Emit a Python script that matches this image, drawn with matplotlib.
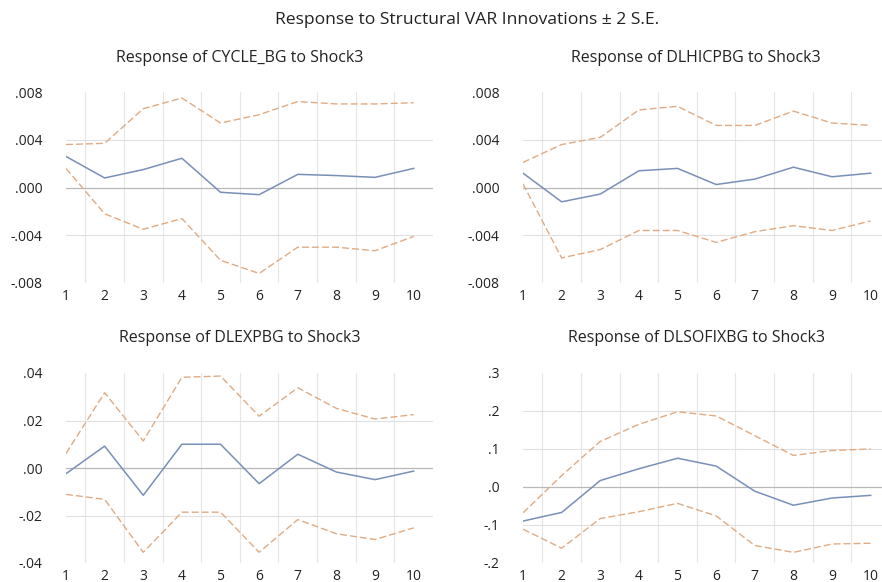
import matplotlib
matplotlib.use("Agg")
import matplotlib.pyplot as plt
import numpy as np

plt.rcParams['font.family'] = ['Open Sans', 'DejaVu Sans']

periods = list(range(1, 11))

titles = ["Response of CYCLE_BG to Shock3", "Response of DLHICPBG to Shock3",
          "Response of DLEXPBG to Shock3", "Response of DLSOFIXBG to Shock3"]

cycle_mean = [0.0026, 0.0008, 0.0015, 0.00245, -0.0004, -0.0006, 0.0011, 0.0010, 0.00085, 0.0016]
cycle_up = [0.0036, 0.0037, 0.0066, 0.0075, 0.0054, 0.0061, 0.0072, 0.0070, 0.0070, 0.0071]
cycle_lo = [0.0016, -0.0022, -0.0035, -0.0026, -0.0061, -0.0072, -0.0050, -0.0050, -0.0053, -0.0041]

hicp_mean = [0.0012, -0.0012, -0.00055, 0.0014, 0.0016, 0.00025, 0.0007, 0.0017, 0.0009, 0.0012]
hicp_up = [0.0021, 0.0036, 0.0042, 0.0065, 0.0068, 0.0052, 0.0052, 0.0064, 0.0054, 0.0052]
hicp_lo = [0.0003, -0.0059, -0.0052, -0.0036, -0.0036, -0.0046, -0.0037, -0.0032, -0.0036, -0.0028]

exp_mean = [-0.0024, 0.0092, -0.0115, 0.0100, 0.0100, -0.0066, 0.0058, -0.0017, -0.0049, -0.0013]
exp_up = [0.0061, 0.0317, 0.0114, 0.0382, 0.0387, 0.0218, 0.0338, 0.0251, 0.0206, 0.0225]
exp_lo = [-0.0111, -0.0132, -0.0355, -0.0186, -0.0186, -0.0355, -0.0217, -0.0277, -0.0301, -0.0252]

sofix_mean = [-0.0896, -0.067, 0.017, 0.048, 0.0757, 0.055, -0.011, -0.048, -0.029, -0.022]
sofix_up = [-0.068, 0.030, 0.120, 0.165, 0.198, 0.187, 0.135, 0.083, 0.096, 0.100]
sofix_lo = [-0.111, -0.161, -0.083, -0.065, -0.043, -0.076, -0.154, -0.172, -0.150, -0.148]

yticks_list = [
    ([-0.008, -0.004, 0.0, 0.004, 0.008], ["-.008", "-.004", ".000", ".004", ".008"]),
    ([-0.008, -0.004, 0.0, 0.004, 0.008], ["-.008", "-.004", ".000", ".004", ".008"]),
    ([-0.04, -0.02, 0.0, 0.02, 0.04], ["-.04", "-.02", ".00", ".02", ".04"]),
    ([-0.2, -0.1, 0.0, 0.1, 0.2, 0.3], ["-.2", "-.1", ".0", ".1", ".2", ".3"]),
]
series = [(cycle_mean, cycle_up, cycle_lo), (hicp_mean, hicp_up, hicp_lo),
          (exp_mean, exp_up, exp_lo), (sofix_mean, sofix_up, sofix_lo)]

W, H = 882, 582
fig = plt.figure(figsize=(W / 100, H / 100), dpi=100)

# axes boxes in pixels: left, top, right, bottom
boxes = [(66, 92, 433, 283), (523, 92, 890, 283),
         (66, 373, 433, 563), (523, 373, 890, 563)]
title_pos = [(240, 58), (696, 58), (240, 338), (696, 338)]

blue = '#7890b8'
orange = '#e0ab82'

for i in range(4):
    l, t, r, b = boxes[i]
    ax = fig.add_axes([l / W, 1 - b / H, (r - l) / W, (b - t) / H])
    mean, up, lo = series[i]
    ticks, labels = yticks_list[i]
    ax.set_xlim(1, 10.5)
    ax.set_ylim(ticks[0], ticks[-1])
    for s in ax.spines.values():
        s.set_visible(False)
    # grid
    for xv in np.arange(1.5, 10.5, 1.0):
        ax.axvline(xv, color='#e6e6e6', lw=0.8, zorder=0)
    for yv in ticks[1:-1]:
        if yv == 0:
            ax.axhline(yv, color='#b8b8b8', lw=0.9, zorder=0)
        else:
            ax.axhline(yv, color='#e0e0e0', lw=0.8, zorder=0)
    ax.plot(periods, up, color=orange, lw=1.0, dashes=(5, 2.2))
    ax.plot(periods, lo, color=orange, lw=1.0, dashes=(5, 2.2))
    ax.plot(periods, mean, color=blue, lw=1.1)
    ax.set_xticks(periods)
    ax.set_xticklabels([str(p) for p in periods])
    ax.set_yticks(ticks)
    ax.set_yticklabels(labels)
    ax.tick_params(axis='both', length=0, labelsize=10, colors='#222222')
    ax.tick_params(axis='y', pad=17)
    ax.tick_params(axis='x', pad=4)
    ax.patch.set_alpha(0)
    tx, ty = title_pos[i]
    fig.text(tx / W, 1 - ty / H, titles[i], ha='center', va='center',
             fontsize=11.5, color='#222222')

fig.text(467 / W, 1 - 20 / H, "Response to Structural VAR Innovations \u00b1 2 S.E.",
         ha='center', va='center', fontsize=12.6, color='#222222')

fig.savefig('out.png', dpi=100, facecolor='white')
